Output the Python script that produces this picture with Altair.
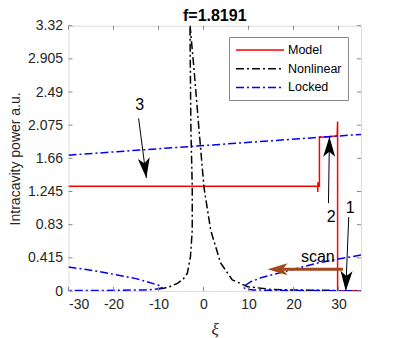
import altair as alt
import pandas as pd

# ---------------- data ----------------
title_text = "f=1.8191"
series_names = ["Model", "Nonlinear", "Locked"]
series_colors = ["#ff0000", "#000000", "#0000ff"]
series_dashes = [[1, 0], [8, 3, 2, 3], [8, 3, 2, 3]]

# Model (red): scan from right to left
model_xi = [35, 29.8, 29.8, 29.7, 29.5, 27.5, 25.76, 25.76, 25.42, 25.42, 25.40, 25.38, -30]
model_p = [0.004, 0.004, 2.12, 1.95, 1.94, 1.93, 1.925, 1.31, 1.31, 1.36, 1.24, 1.31, 1.31]

# Nonlinear resonance (black dash-dot)
nonlin_xi = [-10, -8.8, -7.2, -5.8, -4.5, -3.6, -2.9, -2.5, -2.5, -2.8, -3.0, -3.0,
             -2.9, -2.1, -1.0, 0.1, 1.6, 3.8, 6.4, 9.8, 15, 20, 30]
nonlin_p = [0.028, 0.034, 0.06, 0.096, 0.15, 0.22, 0.43, 0.76, 1.30, 2.03, 3.27, 3.36,
            3.27, 2.77, 2.02, 1.30, 0.76, 0.35, 0.14, 0.054, 0.02, 0.012, 0.007]

# Locked (blue dash-dot): three branches
locked_up_xi = [-30, 35]
locked_up_p = [1.70, 1.96]
locked_left_xi = [-30, -25, -20, -15, -12.5, -10.8, -9.6, -9.2, -9.6, -11, -13, -20, -30]
locked_left_p = [0.30, 0.26, 0.21, 0.155, 0.115, 0.085, 0.065, 0.045, 0.03, 0.02, 0.014, 0.008, 0.005]
locked_right_xi = [35, 30, 25.4, 17.9, 13, 10.5, 9.4, 8.9, 9.4, 11, 15, 25, 35]
locked_right_p = [0.45, 0.40, 0.35, 0.24, 0.17, 0.116, 0.075, 0.045, 0.025, 0.014, 0.008, 0.005, 0.003]

# axis ticks
x_ticks = [-30, -20, -10, 0, 10, 20, 30]
y_ticks = [0, 0.415, 0.83, 1.245, 1.66, 2.075, 2.49, 2.905, 3.32]
x_dom = [-30, 35]
y_dom = [0, 3.32]

# annotations
ann_text = ["3", "2", "1", "scan"]
ann_xi = [-14.15, 28.37, 32.6, 25.4]
ann_p = [2.33, 0.93, 1.04, 0.43]

arrow_xi = [-14.42, 27.77, 32.28, 30.98]
arrow_p = [2.16, 1.10, 0.926, 0.272]
arrow_xi2 = [-12.70, 27.99, 31.61, 17.6]
arrow_p2 = [1.414, 1.931, 0.0, 0.272]
arrow_tip_xi = [-12.70, 27.99, 31.61, 14.24]
arrow_tip_p = [1.414, 1.931, 0.0, 0.272]
arrow_angle = [172.6, 0.9, 182.3, 270]
arrow_color = ["#000000", "#000000", "#000000", "#a2461c"]
arrow_width = [1, 1, 1, 3]

# ---------------- tables ----------------
rows = []
for series, seg, xs_, ps_ in [
    ("Model", "a_model", model_xi, model_p),
    ("Nonlinear", "b_nonlin", nonlin_xi, nonlin_p),
    ("Locked", "c_up", locked_up_xi, locked_up_p),
    ("Locked", "d_left", locked_left_xi, locked_left_p),
    ("Locked", "e_right", locked_right_xi, locked_right_p),
]:
    for i, (x, p) in enumerate(zip(xs_, ps_)):
        rows.append(dict(xi=x, P=p, series=series, seg=seg, ord=i))
lines_df = pd.DataFrame(rows)

tick_rows = []
for t in x_ticks:
    tick_rows.append(dict(xi=t, xi2=t, P=y_dom[0], P2=y_dom[0] + 0.05))
    tick_rows.append(dict(xi=t, xi2=t, P=y_dom[1], P2=y_dom[1] - 0.05))
for t in y_ticks:
    tick_rows.append(dict(xi=x_dom[0], xi2=x_dom[0] + 0.9, P=t, P2=t))
    tick_rows.append(dict(xi=x_dom[1], xi2=x_dom[1] - 0.9, P=t, P2=t))
ticks_df = pd.DataFrame(tick_rows)

ann_df = pd.DataFrame(dict(text=ann_text, xi=ann_xi, P=ann_p))
arrow_df = pd.DataFrame(dict(xi=arrow_xi, P=arrow_p, xi2=arrow_xi2, P2=arrow_p2,
                             txi=arrow_tip_xi, tp=arrow_tip_p, angle=arrow_angle,
                             color=arrow_color, width=arrow_width))
title_df = pd.DataFrame(dict(text=[title_text]))

FONT = "Liberation Sans"
xs = alt.Scale(domain=x_dom, nice=False, zero=False)
ys = alt.Scale(domain=y_dom, nice=False, zero=False)

legend = alt.Legend(
    title=None, orient="none", legendX=160.5, legendY=11.3,
    symbolType="M-4,0H4", symbolSize=144, symbolStrokeWidth=1.5,
    symbolOffset=18, labelOffset=21,
    labelFont=FONT, labelFontSize=12.5, labelColor="#000000", labelLimit=200,
    strokeColor="#888888", fillColor="#ffffff", padding=6, rowPadding=4.7,
)

xaxis = alt.Axis(values=x_ticks, labelExpr="'' + datum.value", title="ξ",
                 titleFont="Liberation Serif", titleFontStyle="italic", titleFontWeight="normal",
                 titleFontSize=17, titleColor="#262626", titlePadding=10,
                 labelFont=FONT, labelFontSize=14, labelColor="#262626", labelPadding=6,
                 labelOverlap=False, ticks=False, domain=False, grid=False)
yaxis = alt.Axis(values=y_ticks, labelExpr="'' + datum.value", title="Intracavity power a.u.",
                 titleFont=FONT, titleFontSize=14, titleFontWeight="normal", titleColor="#262626",
                 titlePadding=5,
                 labelFont=FONT, labelFontSize=14, labelColor="#262626", labelPadding=6,
                 labelOverlap=False, ticks=False, domain=False, grid=False)


def X(field):
    return alt.X(field, scale=xs, axis=xaxis)


def Y(field):
    return alt.Y(field, scale=ys, axis=yaxis)


lines = alt.Chart(lines_df).mark_line(strokeWidth=1.5, clip=True).encode(
    x=X("xi:Q"),
    y=Y("P:Q"),
    color=alt.Color("series:N", scale=alt.Scale(domain=series_names, range=series_colors), legend=legend),
    strokeDash=alt.StrokeDash("series:N", scale=alt.Scale(domain=series_names, range=series_dashes), legend=legend),
    detail="seg:N",
    order="ord:Q",
)

ticks = alt.Chart(ticks_df).mark_rule(color="#888888", strokeWidth=1).encode(
    x=X("xi:Q"), x2="xi2:Q",
    y=Y("P:Q"), y2="P2:Q",
)

arrows = alt.Chart(arrow_df).mark_rule().encode(
    x=X("xi:Q"), x2="xi2:Q",
    y=Y("P:Q"), y2="P2:Q",
    color=alt.Color("color:N", scale=None),
    strokeWidth=alt.StrokeWidth("width:Q", scale=None),
)

heads = alt.Chart(arrow_df).mark_point(
    shape="M0,0L-0.5,1.67L0,1.25L0.5,1.67Z", filled=True, opacity=1, size=576, strokeWidth=0
).encode(
    x=X("txi:Q"),
    y=Y("tp:Q"),
    angle=alt.Angle("angle:Q", scale=None),
    color=alt.Color("color:N", scale=None),
)

labels = alt.Chart(ann_df).mark_text(font=FONT, fontSize=16, color="#000000",
                                     align="center", baseline="middle").encode(
    x=X("xi:Q"),
    y=Y("P:Q"),
    text="text:N",
)

# chart title, centred above the plot area
title = alt.Chart(title_df).mark_text(font=FONT, fontSize=16, fontWeight="bold", color="#000000",
                                      align="center", baseline="alphabetic").encode(
    x=alt.value(146.25), y=alt.value(-4.5), text="text:N",
)

chart = alt.layer(lines, ticks, arrows, heads, labels, title).properties(
    width=292.5, height=265.3,
    autosize=alt.AutoSizeParams(type="none"),
    padding={"left": 60.5, "top": 17.7, "right": 30, "bottom": 47},
).configure_view(stroke="#888888", strokeWidth=1).configure(background="white")

chart.save("out.html", embed_options={"renderer": "svg", "actions": False})
